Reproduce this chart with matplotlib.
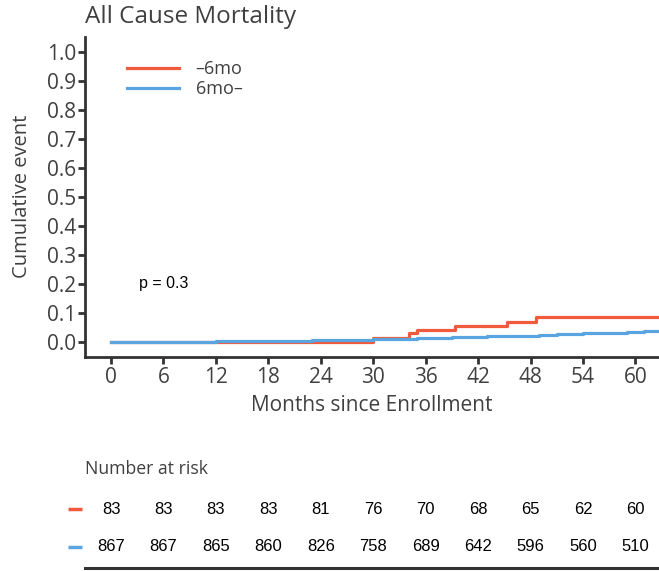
import numpy as np
import matplotlib.pyplot as plt

# KM curves
t_early = [0, 30, 34.1, 35.0, 39.3, 45.3, 48.6, 63]
y_early = [0, 0.013, 0.028, 0.040, 0.055, 0.068, 0.084, 0.084]

t_late = [0, 12, 16, 20, 23, 25, 27, 29, 30, 31, 33, 35, 37, 39, 41, 43, 45, 47, 49,
          51, 52, 54, 56, 58, 59, 61, 63]
y_late = [0, 0.001, 0.002, 0.003, 0.004, 0.005, 0.006, 0.007, 0.008, 0.009, 0.010,
          0.012, 0.014, 0.016, 0.017, 0.018, 0.019, 0.020, 0.022, 0.025, 0.027, 0.028,
          0.029, 0.030, 0.032, 0.035, 0.036]

risk_times = [0, 6, 12, 18, 24, 30, 36, 42, 48, 54, 60]
risk_early = [83, 83, 83, 83, 81, 76, 70, 68, 65, 62, 60]
risk_late = [867, 867, 865, 860, 826, 758, 689, 642, 596, 560, 510]

red = '#F15A3D'
blue = '#5AA5DF'
grey = '#404040'
dark = '#333333'

plt.rcParams['font.family'] = ['Open Sans', 'DejaVu Sans']

fig = plt.figure(figsize=(6.59, 5.71), dpi=100)
ax = fig.add_axes([0.129, 0.3753, 0.871, 0.5599])

ax.step(t_early, y_early, where='post', color=red, lw=2.3, label='\u20136mo')
ax.step(t_late, y_late, where='post', color=blue, lw=2.3, label='6mo\u2013')

ax.set_xlim(-2.98, 62.7)
ax.set_ylim(-0.052, 1.05)
ax.set_xticks(risk_times)
ax.set_yticks(np.arange(0, 1.01, 0.1))
ax.set_yticklabels([f'{v:.1f}' for v in np.arange(0, 1.01, 0.1)])
for s in ['top', 'right']:
    ax.spines[s].set_visible(False)
for s in ['left', 'bottom']:
    ax.spines[s].set_color(dark)
    ax.spines[s].set_linewidth(2.0)
ax.tick_params(colors=dark, width=2.0, length=5, labelsize=15, labelcolor=grey)
ax.tick_params(axis='x', pad=2.5)
ax.tick_params(axis='y', pad=1.5)

ax.set_xlabel('Months since Enrollment', fontsize=15, color=grey)
ax.xaxis.label.set_va('center')
ax.xaxis.set_label_coords(0.5, -0.154)
ax.set_ylabel('Cumulative event', fontsize=14.5, color=grey)
ax.yaxis.label.set_va('center')
ax.yaxis.set_label_coords(-0.110, 0.501)

fig.text(85 / 659, 1 - 17 / 571, 'All Cause Mortality', fontsize=17.5, color=grey,
         ha='left', va='center')

leg = ax.legend(loc='upper left', bbox_to_anchor=(0.073, 0.928), frameon=False,
                fontsize=13, handlelength=2.9, handletextpad=0.9, labelspacing=0.1,
                borderpad=0, borderaxespad=0)
for txt in leg.get_texts():
    txt.set_color(grey)

ax.text(6.0, 0.2, 'p = 0.3', fontsize=11.5, family='Liberation Sans', color='black',
        ha='center', va='center')

# number at risk table
tab = fig.add_axes([0.129, 0.0058, 0.871, 0.1974])
tab.set_xlim(ax.get_xlim())
tab.set_ylim(0, 1)
tab.set_yticks([])
tab.set_xticks([])
for s in ['top', 'right', 'left']:
    tab.spines[s].set_visible(False)
tab.spines['bottom'].set_color(dark)
tab.spines['bottom'].set_linewidth(2.2)
tab.patch.set_alpha(0)

tab.text(0.0, 0.873, 'Number at risk', transform=tab.transAxes, fontsize=12.7,
         color=grey, va='center', ha='left')
for x, a, b in zip(risk_times, risk_early, risk_late):
    tab.text(x, 0.518, str(a), fontsize=12, family='Liberation Sans',
             ha='center', va='center')
    tab.text(x, 0.186, str(b), fontsize=12, family='Liberation Sans',
             ha='center', va='center')
tab.plot([-4.92, -3.32], [0.518, 0.518], color=red, lw=2.5, clip_on=False,
         solid_capstyle='butt')
tab.plot([-4.92, -3.32], [0.186, 0.186], color=blue, lw=2.5, clip_on=False,
         solid_capstyle='butt')

fig.savefig('out.png', dpi=100)
